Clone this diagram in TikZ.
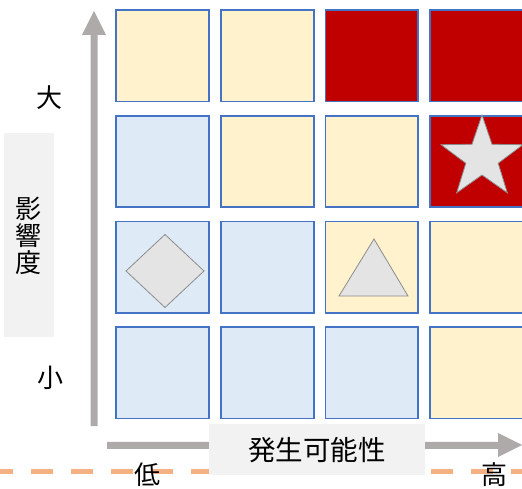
\documentclass[tikz,border=0pt]{standalone}
\usepackage{fontspec}
\newfontfamily\jp{Noto Sans CJK JP}
\definecolor{cyel}{HTML}{FFF2CC}
\definecolor{cblu}{HTML}{DEEBF7}
\definecolor{cred}{HTML}{C00000}
\definecolor{cbrd}{HTML}{4472C4}
\definecolor{carr}{HTML}{AEAAAA}
\definecolor{cbox}{HTML}{F2F2F2}
\definecolor{cshp}{HTML}{E4E4E4}
\definecolor{cshb}{HTML}{8C8C8C}
\definecolor{cdash}{HTML}{F4B183}
\begin{document}
\begin{tikzpicture}[x=1pt,y=1pt,
  cell/.style={draw=cbrd,line width=1.8pt,minimum width=92.5pt,minimum height=91.5pt,inner sep=0pt,outer sep=0pt},
  yel/.style={cell,fill=cyel},
  blu/.style={cell,fill=cblu},
  red/.style={cell,fill=cred},
  shp/.style={fill=cshp,draw=cshb,line width=0.8pt,line join=miter},
  lbl/.style={font=\jp\fontsize{26}{27}\selectfont,inner sep=0pt},
  lblbox/.style={fill=cbox,inner sep=0pt}
]
\useasboundingbox (0,0) rectangle (522,488);
\begin{scope}
\clip (0,0) rectangle (522,488);
% dashed line
\draw[cdash,line width=5pt,dash pattern=on 22pt off 18pt,dash phase=9pt] (0,16.5) -- (522,16.5);
% vertical arrow
\fill[carr] (90.5,62) -- (97.5,62) -- (97.5,453) -- (106,453) -- (94,477) -- (82,453) -- (90.5,453) -- cycle;
% horizontal arrow
\fill[carr] (107,46.25) -- (498,46.25) -- (498,55) -- (522,43) -- (498,31) -- (498,39.25) -- (107,39.25) -- cycle;
% grid
\node[yel] (c11) at (162.5,432.25) {};
\node[yel] (c12) at (267.5,432.25) {};
\node[red] (c13) at (371.75,432.25) {};
\node[red] (c14) at (476.25,432.25) {};
\node[blu] (c21) at (162.5,326.5) {};
\node[yel] (c22) at (267.5,326.5) {};
\node[yel] (c23) at (371.75,326.5) {};
\node[red] (c24) at (476.25,326.5) {};
\node[blu] (c31) at (162.5,220.75) {};
\node[blu] (c32) at (267.5,220.75) {};
\node[yel] (c33) at (371.75,220.75) {};
\node[yel] (c34) at (476.25,220.75) {};
\node[blu] (c41) at (162.5,115.25) {};
\node[blu] (c42) at (267.5,115.25) {};
\node[blu] (c43) at (371.75,115.25) {};
\node[yel] (c44) at (476.25,115.25) {};
% star
\begin{scope}[shift={(482,330)}]
\draw[shp] (90:43) -- (126:17) -- (162:43) -- (198:17) -- (234:43) -- (270:17) -- (306:43) -- (342:17) -- (18:43) -- (54:17) -- cycle;
\end{scope}
% triangle
\draw[shp] (374,249) -- (408,192) -- (339,192) -- cycle;
% diamond
\draw[shp] (165,253.5) -- (204,217) -- (165,180.5) -- (126,217) -- cycle;
% label boxes
\node[lblbox,minimum width=216pt,minimum height=51pt] (xbox) at (317,38.5) {};
\node[lbl,font=\jp\fontsize{27.5}{28}\selectfont] (xlab) at (317,37.5) {発生可能性};
\node[lblbox,minimum width=50pt,minimum height=204pt] (ybox) at (29,253) {};
\node[lbl,align=center] (ylab) at (28.5,252) {影\\響\\度};
\node[lbl] (big) at (49.5,390.5) {大};
\node[lbl] (small) at (50,110.5) {小};
\node[lbl] (low) at (147,13) {低};
\node[lbl] (high) at (494,13) {高};
\end{scope}
\end{tikzpicture}
\end{document}
